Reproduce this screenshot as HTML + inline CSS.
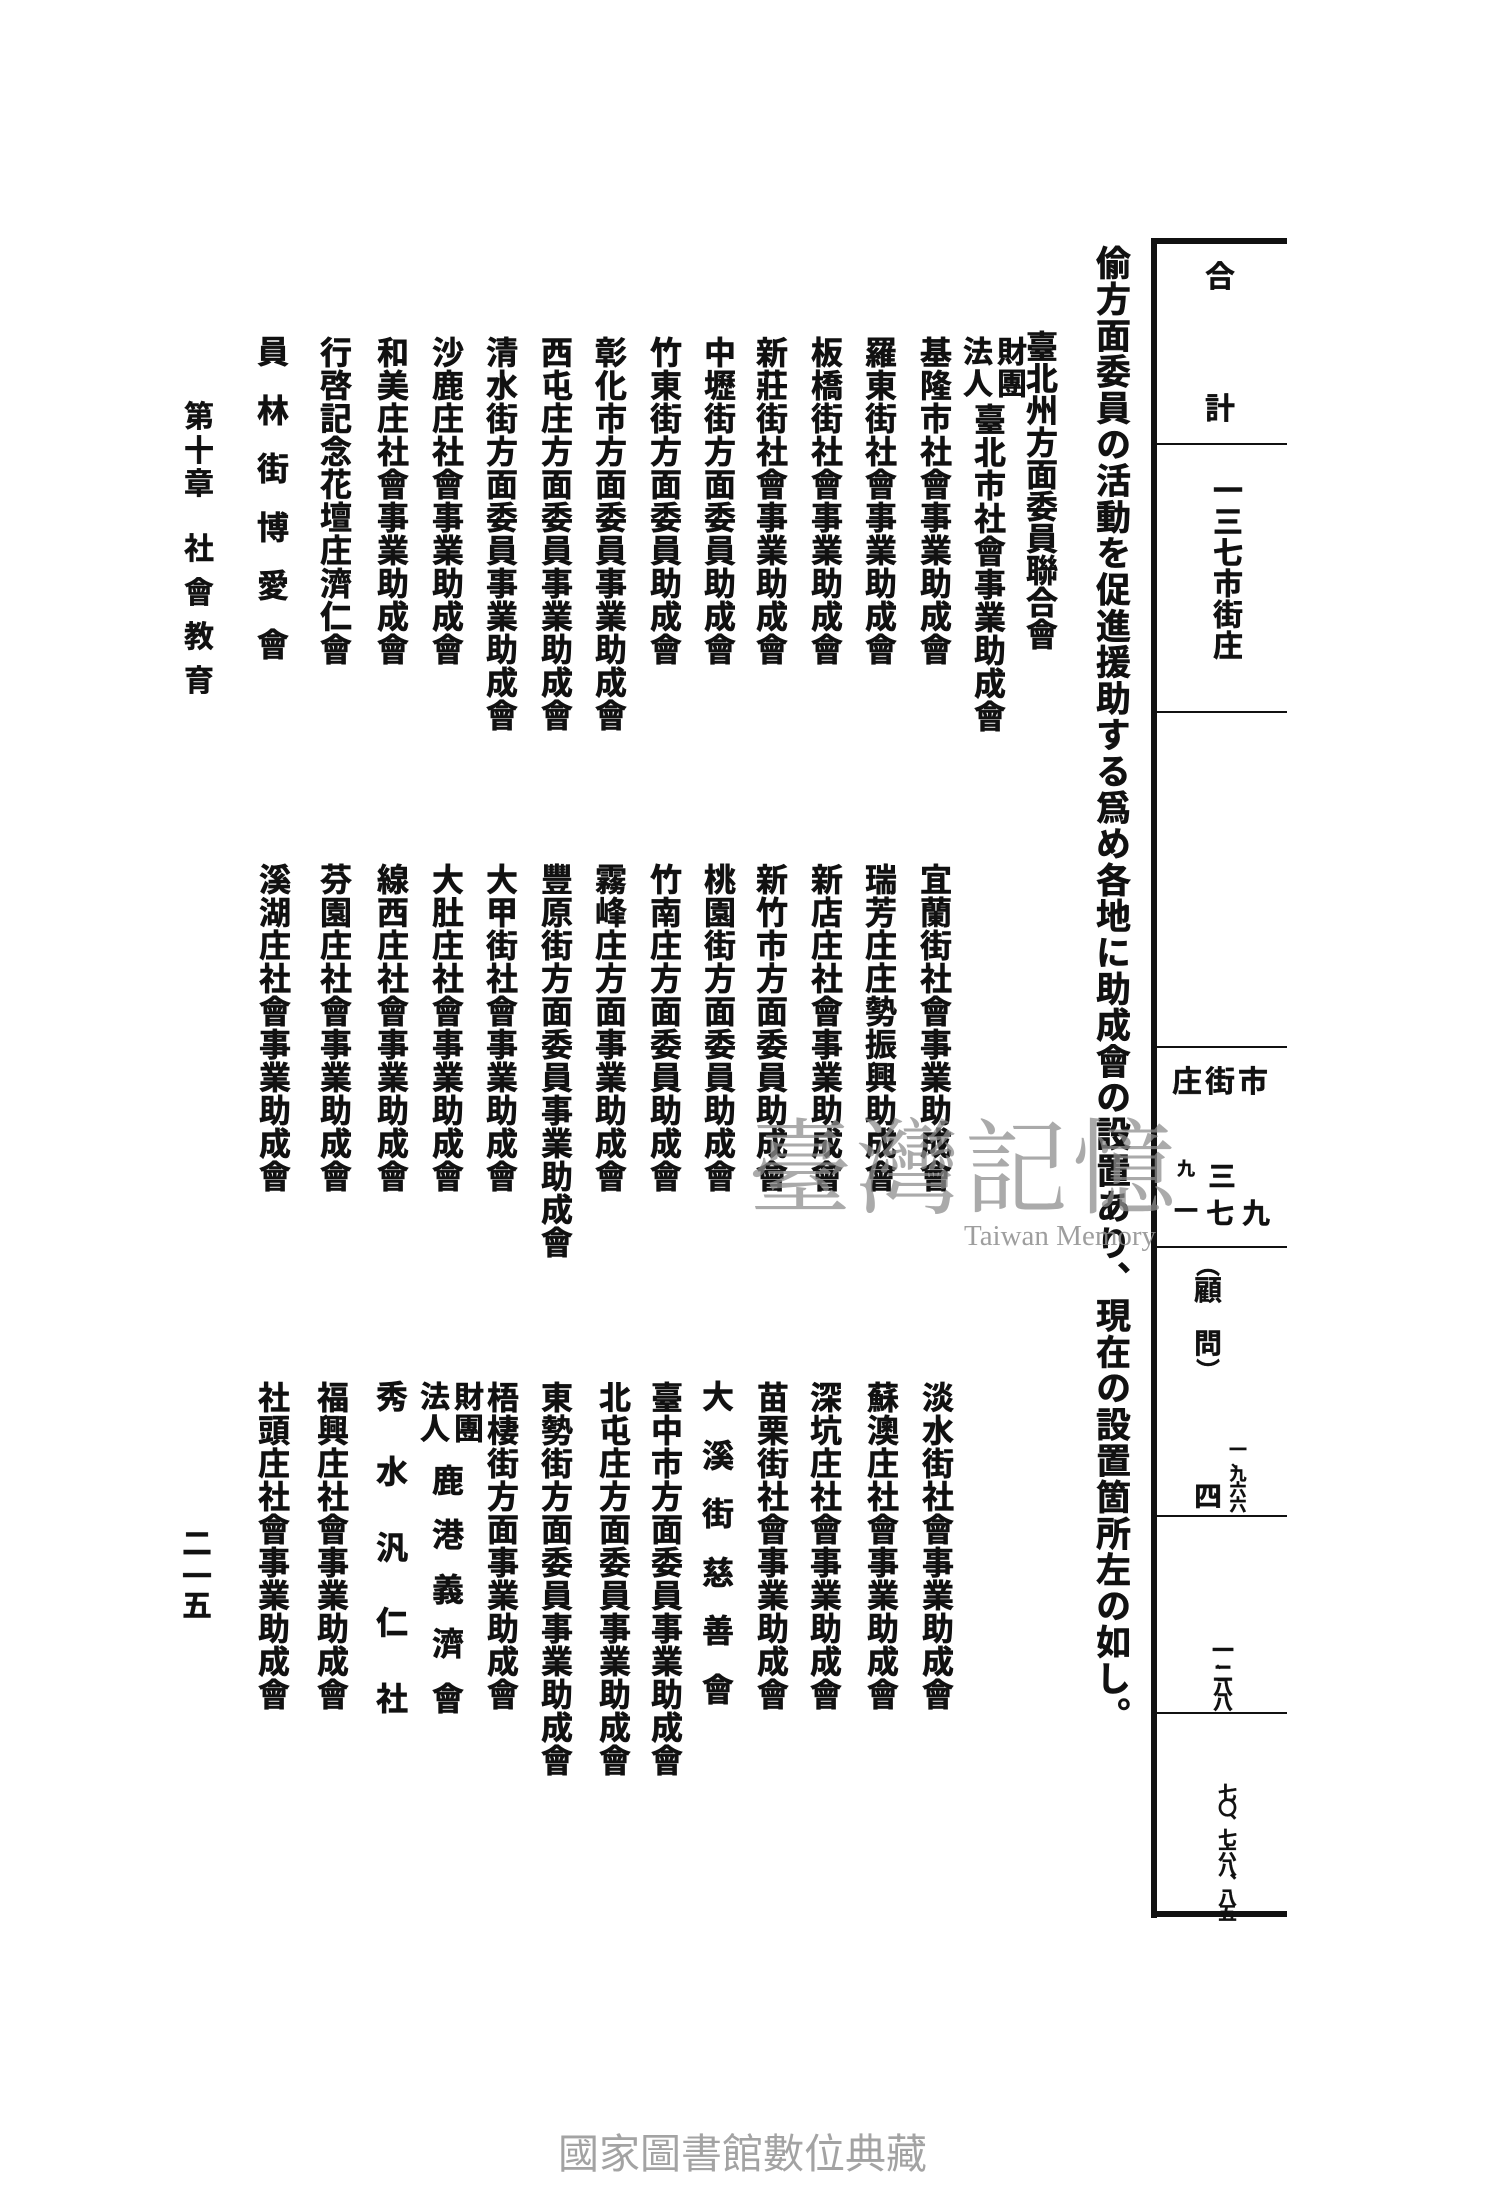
<!DOCTYPE html>
<html><head><meta charset="utf-8">
<style>
html,body{margin:0;padding:0;background:#fff;}
body{width:1500px;height:2200px;position:relative;overflow:hidden;font-family:"Liberation Serif","Noto Sans CJK JP","Noto Serif CJK SC",serif;color:#111;}
.c{position:absolute;writing-mode:vertical-rl;font-family:"Liberation Sans","Noto Sans CJK JP",sans-serif;font-weight:700;font-size:32px;line-height:32px;letter-spacing:1px;width:32px;white-space:nowrap;-webkit-text-stroke:0.6px #111;}
.s{position:absolute;font-family:"Liberation Sans","Noto Sans CJK JP",sans-serif;font-weight:700;font-size:32px;line-height:32px;width:32px;text-align:center;-webkit-text-stroke:0.6px #111;}
.h{position:absolute;writing-mode:vertical-rl;font-family:"Liberation Sans","Noto Sans CJK JP",sans-serif;font-weight:700;font-size:35px;line-height:35px;letter-spacing:1.3px;white-space:nowrap;-webkit-text-stroke:0.6px #111;}
.line{position:absolute;background:#111;}
.t{position:absolute;font-family:"Liberation Sans","Noto Sans CJK JP",sans-serif;font-weight:700;text-align:center;line-height:1;-webkit-text-stroke:0.4px #111;}
</style></head><body>

<div class="h" style="left:1093px;top:245px;">偷方面委員の活動を促進援助する爲め各地に助成會の設置あり、現在の設置箇所左の如し。</div>

<div class="line" style="left:1151px;top:238px;width:6px;height:1680px;"></div>
<div class="line" style="left:1151px;top:238px;width:136px;height:6px;"></div>
<div class="line" style="left:1151px;top:1911px;width:136px;height:6px;"></div>
<div class="line" style="left:1157px;top:443px;width:130px;height:2px;"></div>
<div class="line" style="left:1157px;top:711px;width:130px;height:2px;"></div>
<div class="line" style="left:1157px;top:1046px;width:130px;height:2px;"></div>
<div class="line" style="left:1157px;top:1246px;width:130px;height:2px;"></div>
<div class="line" style="left:1157px;top:1515px;width:130px;height:2px;"></div>
<div class="line" style="left:1157px;top:1712px;width:130px;height:2px;"></div>

<div class="t" style="left:1205px;top:263px;width:30px;font-size:30px;">合</div>
<div class="t" style="left:1205px;top:395px;width:30px;font-size:30px;">計</div>
<div class="c" style="left:1207px;top:475px;font-size:30px;line-height:30px;letter-spacing:1px;">一三七市街庄</div>
<div class="t" style="left:1172px;top:1068px;width:30px;font-size:30px;">庄</div>
<div class="t" style="left:1205px;top:1068px;width:30px;font-size:30px;">街</div>
<div class="t" style="left:1238px;top:1068px;width:30px;font-size:30px;">市</div>
<div class="t" style="left:1176px;top:1160px;width:20px;font-size:18px;">九</div>
<div class="t" style="left:1174px;top:1200px;width:24px;font-size:24px;">一</div>
<div class="t" style="left:1208px;top:1163px;width:28px;font-size:28px;">三</div>
<div class="t" style="left:1206px;top:1200px;width:28px;font-size:28px;">七</div>
<div class="t" style="left:1242px;top:1200px;width:28px;font-size:28px;">九</div>
<div class="t" style="left:1195px;top:1255px;width:26px;font-size:24px;">︵</div>
<div class="t" style="left:1194px;top:1277px;width:28px;font-size:28px;">顧</div>
<div class="t" style="left:1194px;top:1330px;width:28px;font-size:28px;">問</div>
<div class="t" style="left:1195px;top:1360px;width:26px;font-size:24px;">︶</div>
<div class="t" style="left:1228px;top:1441px;width:20px;font-size:18px;">一</div>
<div class="t" style="left:1228px;top:1455px;width:20px;font-size:14px;">、</div>
<div class="t" style="left:1228px;top:1466px;width:20px;font-size:17px;">九</div>
<div class="t" style="left:1228px;top:1482px;width:20px;font-size:17px;">六</div>
<div class="t" style="left:1228px;top:1497px;width:20px;font-size:17px;">六</div>
<div class="t" style="left:1194px;top:1483px;width:28px;font-size:28px;">四</div>
<div class="t" style="left:1211px;top:1640px;width:24px;font-size:22px;">一</div>
<div class="t" style="left:1211px;top:1656px;width:24px;font-size:14px;">、</div>
<div class="t" style="left:1211px;top:1664px;width:24px;font-size:20px;">二</div>
<div class="t" style="left:1211px;top:1678px;width:24px;font-size:20px;">八</div>
<div class="t" style="left:1211px;top:1693px;width:24px;font-size:20px;">八</div>
<div class="c" style="left:1213px;top:1783px;font-size:19px;line-height:24px;width:24px;letter-spacing:-4px;-webkit-text-stroke:0.3px #111;">七〇、七六八、八五</div>

<div class="c" style="left:1024px;top:330px;letter-spacing:0px;">臺北州方面委員聯合會</div>
<div class="c" style="left:991px;top:336px;font-size:30px;line-height:30px;letter-spacing:2px;">財團</div>
<div class="c" style="left:957px;top:336px;font-size:30px;line-height:30px;letter-spacing:2px;">法人</div>
<div class="c" style="left:972px;top:403px;">臺北市社會事業助成會</div>
<div class="c" style="left:918px;top:336px;">基隆市社會事業助成會</div>
<div class="c" style="left:863px;top:336px;">羅東街社會事業助成會</div>
<div class="c" style="left:809px;top:336px;">板橋街社會事業助成會</div>
<div class="c" style="left:754px;top:336px;">新莊街社會事業助成會</div>
<div class="c" style="left:702px;top:336px;">中壢街方面委員助成會</div>
<div class="c" style="left:648px;top:336px;">竹東街方面委員助成會</div>
<div class="c" style="left:593px;top:336px;">彰化市方面委員事業助成會</div>
<div class="c" style="left:539px;top:336px;">西屯庄方面委員事業助成會</div>
<div class="c" style="left:484px;top:336px;">清水街方面委員事業助成會</div>
<div class="c" style="left:430px;top:336px;">沙鹿庄社會事業助成會</div>
<div class="c" style="left:375px;top:336px;">和美庄社會事業助成會</div>
<div class="c" style="left:318px;top:336px;">行啓記念花壇庄濟仁會</div>
<div class="s" style="left:257px;top:336px;">員</div>
<div class="s" style="left:257px;top:395px;">林</div>
<div class="s" style="left:257px;top:453px;">街</div>
<div class="s" style="left:257px;top:512px;">博</div>
<div class="s" style="left:257px;top:570px;">愛</div>
<div class="s" style="left:257px;top:629px;">會</div>

<div class="t" style="left:184px;top:403px;width:30px;font-size:30px;">第</div>
<div class="t" style="left:184px;top:437px;width:30px;font-size:30px;">十</div>
<div class="t" style="left:184px;top:470px;width:30px;font-size:30px;">章</div>
<div class="t" style="left:184px;top:535px;width:30px;font-size:30px;">社</div>
<div class="t" style="left:184px;top:579px;width:30px;font-size:30px;">會</div>
<div class="t" style="left:184px;top:623px;width:30px;font-size:30px;">教</div>
<div class="t" style="left:184px;top:667px;width:30px;font-size:30px;">育</div>

<div class="c" style="left:918px;top:863px;">宜蘭街社會事業助成會</div>
<div class="c" style="left:863px;top:863px;">瑞芳庄庄勢振興助成會</div>
<div class="c" style="left:809px;top:863px;">新店庄社會事業助成會</div>
<div class="c" style="left:754px;top:863px;">新竹市方面委員助成會</div>
<div class="c" style="left:702px;top:863px;">桃園街方面委員助成會</div>
<div class="c" style="left:648px;top:863px;">竹南庄方面委員助成會</div>
<div class="c" style="left:593px;top:863px;">霧峰庄方面事業助成會</div>
<div class="c" style="left:539px;top:863px;">豐原街方面委員事業助成會</div>
<div class="c" style="left:484px;top:863px;">大甲街社會事業助成會</div>
<div class="c" style="left:430px;top:863px;">大肚庄社會事業助成會</div>
<div class="c" style="left:375px;top:863px;">線西庄社會事業助成會</div>
<div class="c" style="left:318px;top:863px;">芬園庄社會事業助成會</div>
<div class="c" style="left:257px;top:863px;">溪湖庄社會事業助成會</div>

<div class="c" style="left:920px;top:1381px;">淡水街社會事業助成會</div>
<div class="c" style="left:865px;top:1381px;">蘇澳庄社會事業助成會</div>
<div class="c" style="left:808px;top:1381px;">深坑庄社會事業助成會</div>
<div class="c" style="left:755px;top:1381px;">苗栗街社會事業助成會</div>
<div class="s" style="left:702px;top:1381px;">大</div>
<div class="s" style="left:702px;top:1440px;">溪</div>
<div class="s" style="left:702px;top:1498px;">街</div>
<div class="s" style="left:702px;top:1557px;">慈</div>
<div class="s" style="left:702px;top:1615px;">善</div>
<div class="s" style="left:702px;top:1674px;">會</div>
<div class="c" style="left:649px;top:1381px;">臺中市方面委員事業助成會</div>
<div class="c" style="left:597px;top:1381px;">北屯庄方面委員事業助成會</div>
<div class="c" style="left:539px;top:1381px;">東勢街方面委員事業助成會</div>
<div class="c" style="left:485px;top:1381px;">梧棲街方面事業助成會</div>
<div class="c" style="left:448px;top:1381px;font-size:30px;line-height:30px;letter-spacing:2px;">財團</div>
<div class="c" style="left:414px;top:1381px;font-size:30px;line-height:30px;letter-spacing:2px;">法人</div>
<div class="s" style="left:432px;top:1465px;">鹿</div>
<div class="s" style="left:432px;top:1519px;">港</div>
<div class="s" style="left:432px;top:1574px;">義</div>
<div class="s" style="left:432px;top:1628px;">濟</div>
<div class="s" style="left:432px;top:1683px;">會</div>
<div class="s" style="left:376px;top:1381px;">秀</div>
<div class="s" style="left:376px;top:1456px;">水</div>
<div class="s" style="left:376px;top:1532px;">汎</div>
<div class="s" style="left:376px;top:1607px;">仁</div>
<div class="s" style="left:376px;top:1683px;">社</div>
<div class="c" style="left:315px;top:1381px;">福興庄社會事業助成會</div>
<div class="c" style="left:256px;top:1381px;">社頭庄社會事業助成會</div>

<div class="t" style="left:182px;top:1530px;width:30px;font-size:30px;">二</div>
<div class="t" style="left:182px;top:1563px;width:30px;font-size:30px;">一</div>
<div class="t" style="left:182px;top:1592px;width:30px;font-size:30px;">五</div>

<div style="position:absolute;left:748px;top:1100px;font-family:'Noto Serif CJK SC','Noto Sans CJK TC',serif;font-size:104px;line-height:120px;color:#8e8e8e;opacity:0.75;letter-spacing:4px;white-space:nowrap;">臺灣記憶</div>
<div style="position:absolute;left:964px;top:1220px;font-family:'Liberation Serif',serif;font-size:29px;line-height:32px;color:#8e8e8e;opacity:0.85;white-space:nowrap;">Taiwan Memory</div>

<div style="position:absolute;left:558px;top:2131px;font-family:'Liberation Sans','Noto Sans CJK TC',sans-serif;font-size:41px;line-height:46px;color:#a3a3a3;white-space:nowrap;">國家圖書館數位典藏</div>

</body></html>
